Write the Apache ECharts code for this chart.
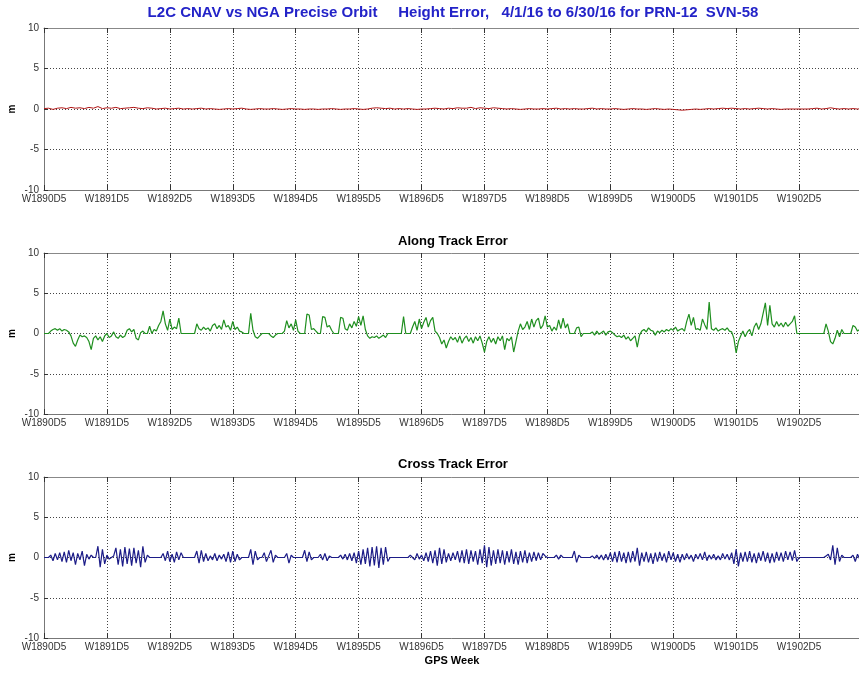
<!DOCTYPE html>
<html>
<head>
<meta charset="utf-8">
<script src="https://cdn.jsdelivr.net/npm/echarts@6/dist/echarts.min.js"></script>
<style>html,body{margin:0;padding:0;background:#fff;}#c{width:859px;height:673px;}</style>
</head>
<body>
<div id="c"></div>
<script>
// ---- data ----
const tickLabels = ['W1890D5','W1891D5','W1892D5','W1893D5','W1894D5','W1895D5','W1896D5','W1897D5','W1898D5','W1899D5','W1900D5','W1901D5','W1902D5'];
const yTicks = [-10, -5, 0, 5, 10];
const heightStepDays = 0.5;   // sampling interval of height series (days from W1890D5)
const trackStepDays = 0.25;   // sampling interval of along/cross series

const heightError = [
 0.05,0.1,-0.05,0.1,0.15,0.05,0.2,0.1,0.15,0.05,0.2,0.1,0.3,0.05,0.15,0.1,0.2,0.05,0.1,0.15,
 0.2,0.1,0.05,0.15,0.1,0,0.05,0.1,0,0.05,0.1,0,0.05,0,0.05,0.1,0,0.05,0,-0.05,
 0,0.05,0,0.05,0.1,0,-0.05,0,0.05,0,0,0.05,0,-0.05,0,0.05,0,0,-0.05,0,
 0,-0.05,0,0,0.05,0,-0.05,0,0,0.05,0,-0.05,0,0.1,0.15,0.1,0.05,0.1,0,0.05,
 0,0.05,0,-0.05,0,0,0.05,0.1,0.05,0,0.1,0.05,0.15,0.1,0.1,0.2,0.05,0.15,0.1,0.05,
 0.15,0.1,0.05,0,0.05,0,-0.05,0,0.05,0,0,0.05,0,0.05,0.1,0,0.05,0,0.05,0,
 0,0.05,0.1,0,0.05,0,0,0.05,0,-0.05,0,0.05,0,0,-0.05,0,0.05,0,-0.05,0,
 -0.05,-0.1,-0.15,-0.1,-0.05,0,-0.05,0,0.05,0,0.05,0.1,0.05,0.1,0.05,0,0.05,0,0.05,0.1,
 0.05,0,0.05,0,-0.05,0,0,0,0,0,0,0.05,0.1,0,0.05,0.15,0.05,0,0.05,0,
 0.05,0,0.05
];

const alongTrackError = [
 0,0,0,0.3, 0.5,0.6,0.4,0.6, 0.3,0.5,0.4,0.2, -0.3,-1.2,-1.6,-0.8, -0.2,-0.4,-0.3,-0.5,
 -1.0,-2.0,-0.6,-0.3, -0.8,-0.4,-1.0,-0.3, 0,-0.5,-0.3,0.2, -0.4,-0.6,-0.2,-0.5, -0.3,0.4,0.6,0.2,
 0.5,-0.6,-0.8,0.1, 0.3,0,0,0.9, 0,0.5,0.3,1.0, 1.5,2.8,1.2,0.4, 1.8,0.5,0.8,0.6,
 1.9,0,0,0, 0,0,0,0, 1.2,0.6,0.4,0.8, 0.5,0.7,0.3,1.0, 1.2,0.6,1.0,0.5,
 1.7,0.8,1.0,0.4, 1.5,0.5,0.8,0.3, 0.2,0,0,0, 2.5,0.4,-0.4,-0.6, -0.3,0,0,0,
 0,-0.3,-0.5,-0.2, 0,0,0,0.3, 1.6,0.7,1.2,0.4, 1.7,0.3,0,0, 0,2.4,2.3,0.5,
 0.6,0.3,0,0, 2.1,2.0,0.8,1.0, 0.4,0,0,0, 2.0,1.9,0.6,0.4, 1.2,0.7,1.5,0.9,
 2.1,1.0,2.2,0.5, -0.3,-0.6,-0.4,-0.5, -0.3,-0.6,-0.4,-0.2, -0.5,0,0,0, 0,0,0,0,
 2.1,0,0,0, 0.8,1.5,0.4,1.8, 0.6,1.4,2.0,0.8, 1.6,2.0,0.3,0, -0.5,-1.3,-0.8,-1.8,
 -1.0,-0.4,-0.8,-0.5, -1.1,-0.3,-1.2,-0.6, -0.3,-1.0,-0.5,-1.2, -0.4,-0.9,-0.3,-1.2, -2.3,-1.0,-0.4,-1.1,
 -0.6,-1.3,-0.4,-0.9, -0.3,-2.0,-0.6,-0.9, -0.4,-2.3,-1.0,0.3, 1.2,0.5,0.8,1.5, 0.5,1.8,0.8,1.6,
 1.9,0.6,1.0,2.2, 0.8,1.0,0.3,0.8, 0.4,1.7,0.6,1.9, 0.7,1.2,0,0, 0,0.7,0.8,-0.4,
 0,0,0,0, 0.2,-0.2,0.3,-0.1, 0.1,0.3,-0.2,0.2, 0.3,0.1,-0.2,-0.4, -0.3,-0.5,-0.2,-0.7,
 -0.4,-0.9,-0.6,-0.3, -1.7,-0.2,0.3,0.5, 0.2,0.7,0.4,0.3, -0.2,0.3,0.1,0.4, 0.2,0.5,0.3,0.6,
 0.4,0.8,0.3,0.5, 0.6,0.3,1.5,2.4, 1.0,2.0,0.5,0.6, 0.4,1.8,1.1,0.5, 3.9,0.6,0.4,0.7,
 0.3,0.5,0.6,0.4, 0.7,0.3,0.2,-0.6, -2.4,-1.0,-0.3,0.3, -0.4,0.2,0.5,-0.3, 0.8,1.3,0.5,1.2,
 2.5,3.8,1.0,3.5, 1.2,0.8,1.5,0.9, 1.3,0.8,1.4,0.9, 1.2,1.5,2.2,0, 0,0,0,0,
 0,0,0,0, 0,0,0,0, 1.2,0.3,-1.0,-1.3, -0.6,0.4,-0.4,0.5, 0,0,0,0,
 1.0,0.8,0.3,0.5, 0.4
];

const crossTrackError = [
 0,0,0,0.3, -0.4,0.5,-0.3,0.6, -0.5,0.7,-0.6,0.9, -0.4,0.6,-0.9,0.5, -0.3,0.8,-1.0,0.4,
 -0.2,0.3,0,0, 1.4,-1.2,1.0,-0.8, 0.3,-0.2,0,0.2, 1.2,-0.9,1.0,-1.1, 1.3,-0.8,1.1,-1.0,
 1.2,-0.7,0.9,-1.2, 1.4,-0.6,0.3,0, 0,0,0,0, 0,0.5,-0.4,0.8, -0.5,0.4,-0.6,0.7,
 -0.3,0.6,0,0, 0,0,0,0, 0.8,-0.7,0.9,-0.5, 0.5,-0.4,0.2,-0.3, 0.5,-0.4,0.3,-0.2,
 0.4,-0.5,0.7,-0.6, 0.8,-0.5,0.4,-0.3, 0,0,0,0, 1.0,-0.9,0.8,-0.3, 0,0,0.6,-0.5,
 0.2,0.9,-0.6,0.3, 0,0,0,0, 0.5,-0.7,0.3,0, 0,0,0,0, 0.9,-0.5,0.7,-0.3,
 0,0,0,0.4, -0.3,0.5,-0.4,0.2, 0,0,0,0, 0.3,-0.2,0.4,-0.3, 0.5,-0.4,0.6,-0.7,
 0.8,-0.9,1.0,-0.8, 1.2,-1.1,1.3,-1.0, 1.4,-1.3,1.2,-0.9, 1.3,-0.5,0,0, 0,0,0,0,
 0,0,0,0.3, 0,-0.3,0.5,-0.2, 0.3,-0.4,0.6,-0.5, 0.8,-0.7,0.9,-1.0, 1.2,-0.8,1.0,-0.6,
 0.5,-0.4,0.6,-0.3, 0.8,-0.6,0.9,-0.7, 1.0,-0.8,0.9,-0.5, 0.8,-0.9,1.0,-0.7, 1.5,-1.2,1.3,-1.0,
 0.9,-0.8,1.0,-0.7, 0.9,-0.9,0.8,-0.6, 1.0,-0.8,0.7,-0.9, 0.8,-0.6,0.9,-0.7, 0.6,-0.5,0.7,-0.4,
 0.6,-0.3,0.5,0.2, 0,0,0,0, 0.3,-0.2,0.3,0, 0,0,0,0, 0.8,-0.6,0.3,0,
 0,0,0,0, 0.2,-0.1,0.3,-0.2, 0.3,-0.3,0.4,-0.3, 0.6,-0.5,0.7,-0.6, 0.8,-0.5,0.6,-0.7,
 0.7,-0.6,0.8,-0.5, 1.2,-1.0,0.6,-0.5, 0.7,-0.6,0.5,-0.8, 0.6,-0.5,0.7,-0.4, 0.5,-0.6,0.8,-0.3,
 0.6,-0.5,0.4,-0.6, 0.4,-0.3,0.5,-0.2, 0.3,-0.5,0.4,-0.2, 0.5,-0.3,0.7,-0.4, 0.3,-0.2,0.4,-0.3,
 0.2,-0.3,0.5,-0.2, 0.4,-0.3,0.6,-0.8, 1.0,-1.1,0.6,-0.5, 0.7,-0.5,0.8,-0.6, 0.5,-0.7,0.6,-0.4,
 0.8,-0.5,0.6,-0.7, 0.5,-0.6,0.7,-0.4, 0.6,-0.5,0.8,-0.3, 0.7,-0.4,0.9,-0.5, 0,0,0,0,
 0,0,0,0, 0,0,0,0, 0.2,0.4,-0.3,1.5, -0.9,1.2,-0.5,0.3, 0,0,0,0,
 0.3,-0.5,0.4,-0.2, 0
];

const mainTitle = 'L2C CNAV vs NGA Precise Orbit     Height Error,   4/1/16 to 6/30/16 for PRN-12  SVN-58';
const panelTitles = ['Along Track Error', 'Cross Track Error'];
const xAxisTitle = 'GPS Week';
const yAxisTitle = 'm';

// ---- chart ----
const FONT = '"Liberation Sans", Arial, sans-serif';
const grids = [
  {left: 44, top: 28, width: 818, height: 162, outerBoundsMode: 'none', containLabel: false},
  {left: 44, top: 253, width: 818, height: 161, outerBoundsMode: 'none', containLabel: false},
  {left: 44, top: 477, width: 818, height: 161, outerBoundsMode: 'none', containLabel: false}
];
const dotted = {show: true, lineStyle: {color: '#444', width: 1, type: [1, 2]}};
const xAxes = [], yAxes = [];
grids.forEach((g, i) => {
  xAxes.push({
    type: 'value', gridIndex: i, min: 0, max: 91, interval: 7, position: 'bottom',
    axisLine: {show: true, onZero: false, lineStyle: {color: '#777'}},
    axisTick: {show: true, inside: true, length: 5, lineStyle: {color: '#333'}},
    axisLabel: {formatter: v => tickLabels[Math.round(v / 7)] || '', color: '#333', fontSize: 10, fontFamily: FONT, margin: 4},
    splitLine: dotted
  });
  xAxes.push({
    type: 'value', gridIndex: i, min: 0, max: 91, interval: 7, position: 'top',
    axisLine: {show: true, onZero: false, lineStyle: {color: '#888'}},
    axisTick: {show: true, inside: true, length: 5, lineStyle: {color: '#333'}},
    axisLabel: {show: false}, splitLine: {show: false}
  });
  yAxes.push({
    type: 'value', gridIndex: i, min: yTicks[0], max: yTicks[yTicks.length - 1], interval: 5,
    axisLine: {show: true, lineStyle: {color: '#777'}},
    axisTick: {show: true, inside: true, length: 4, lineStyle: {color: '#333'}},
    axisLabel: {color: '#333', fontSize: 10, fontFamily: FONT, margin: 5},
    splitLine: dotted,
    name: yAxisTitle, nameLocation: 'middle', nameGap: 27, nameRotate: 90, nameMoveOverlap: false,
    nameTextStyle: {color: '#000', fontWeight: 'bold', fontSize: 10, fontFamily: FONT}
  });
});

function pairs(arr, step) { return arr.map((v, i) => [i * step, v]); }

const option = {
  animation: false,
  backgroundColor: '#fff',
  grid: grids,
  xAxis: xAxes,
  yAxis: yAxes,
  graphic: [
    {type: 'text', x: 453, y: 13, style: {text: mainTitle, fill: '#2323c8', font: 'bold 15px ' + FONT, align: 'center', verticalAlign: 'middle'}},
    {type: 'text', x: 453, y: 241, style: {text: panelTitles[0], fill: '#000', font: 'bold 13px ' + FONT, align: 'center', verticalAlign: 'middle'}},
    {type: 'text', x: 453, y: 464, style: {text: panelTitles[1], fill: '#000', font: 'bold 13px ' + FONT, align: 'center', verticalAlign: 'middle'}},
    {type: 'text', x: 452, y: 661, style: {text: xAxisTitle, fill: '#000', font: 'bold 11px ' + FONT, align: 'center', verticalAlign: 'middle'}}
  ],
  series: [
    {type: 'line', xAxisIndex: 0, yAxisIndex: 0, data: pairs(heightError, heightStepDays), showSymbol: false, lineStyle: {color: '#b01515', width: 1}, z: 5},
    {type: 'line', xAxisIndex: 2, yAxisIndex: 1, data: pairs(alongTrackError, trackStepDays), showSymbol: false, lineStyle: {color: '#1f8f1f', width: 1.2}, z: 5},
    {type: 'line', xAxisIndex: 4, yAxisIndex: 2, data: pairs(crossTrackError, trackStepDays), showSymbol: false, lineStyle: {color: '#1c1c88', width: 1.2}, z: 5}
  ]
};
const chart = echarts.init(document.getElementById('c'), null, {renderer: 'canvas'});
chart.setOption(option);
</script>
</body>
</html>
